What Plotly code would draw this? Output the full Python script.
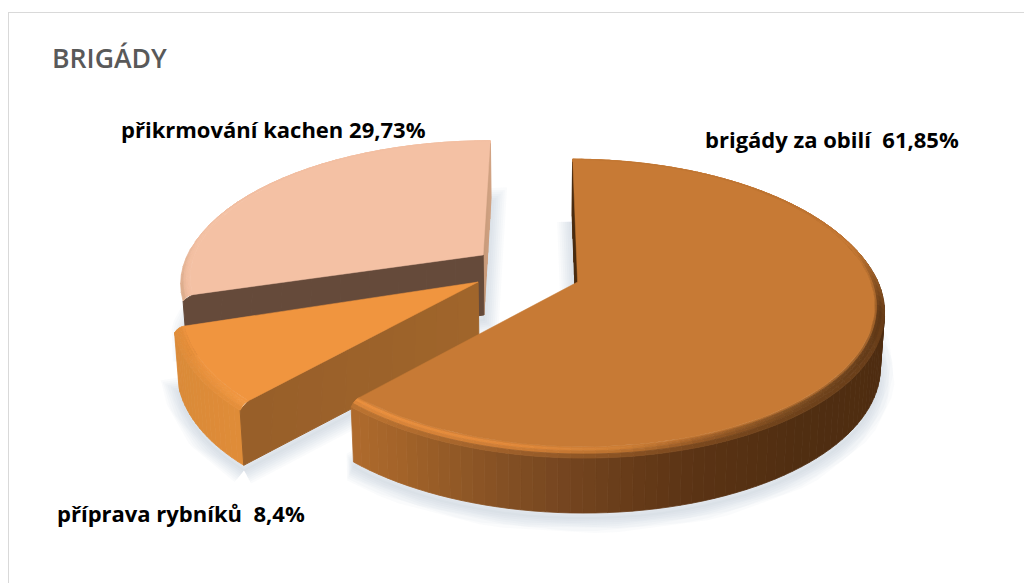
import math
import plotly.graph_objects as go

# Data
categories = ["brigády za obilí", "příprava rybníků", "přikrmování kachen"]
values = [61.85, 8.4, 29.73]
chart_title = "BRIGÁDY"

# Projection of the tilted pie onto the page (pixel space of the hidden axes)
VAN_X, APEX_Y, SCALE_X, SCALE_Y, PERSP = 540.0, 282.0, 308.0, 142.7, 0.151
CENTER_U = 0.114
DEPTH = 60.0
CONVERGE = 0.00022  # vertical edges lean slightly inward as they go down

# Per-slice styling and explosion: (du, dv, rx, ry)
EXPLODE = {0: (0.008, 0.0, 0.983, 1.015), 1: (-0.315, 0.0, 0.975, 1.04), 2: (-0.304, 0.195, 0.997, 0.995)}
TOPS = {0: "#c77a35", 1: "#f0953f", 2: "#f4c1a4"}


def hex2rgb(c):
    return tuple(int(c[i:i + 2], 16) for i in (1, 3, 5))


def mix(a, b, t):
    t = max(0.0, min(1.0, t))
    return tuple(a[i] + (b[i] - a[i]) * t for i in range(3))


def css(c):
    return "rgb(%d,%d,%d)" % tuple(round(x) for x in c)


def ramp(stops, x):
    if x <= stops[0][0]:
        return hex2rgb(stops[0][1])
    for (x0, c0), (x1, c1) in zip(stops, stops[1:]):
        if x <= x1:
            return mix(hex2rgb(c0), hex2rgb(c1), (x - x0) / (x1 - x0))
    return hex2rgb(stops[-1][1])


def project(u, v, z):
    w = 1 + PERSP * v
    x = VAN_X + SCALE_X * (u + CENTER_U) / w
    return x + (VAN_X - x) * z * CONVERGE, APEX_Y - SCALE_Y * v / w + z


def point(slice_i, theta, r, z):
    du, dv, rx, ry = EXPLODE[slice_i]
    return project(du + rx * r * math.sin(theta), dv + ry * r * math.cos(theta), z)


def apex(slice_i, z):
    du, dv, _, _ = EXPLODE[slice_i]
    return project(du, dv, z)


fig = go.Figure()


def poly(pts, color, stroke=0.8):
    xs = [p[0] for p in pts] + [pts[0][0]]
    ys = [p[1] for p in pts] + [pts[0][1]]
    fig.add_trace(go.Scatter(x=xs, y=ys, mode="lines", fill="toself", fillcolor=color,
                             line=dict(color=color, width=stroke), hoverinfo="skip", showlegend=False))


total = sum(values)
spans = []
start = 0.0
for val in values:
    sweep = 2 * math.pi * val / total
    spans.append((start, start + sweep))
    start += sweep

MAIN_WALL = [(345, "#b06c2e"), (400, "#a36329"), (480, "#8a5425"), (560, "#764620"),
             (640, "#653a18"), (700, "#5a3314"), (800, "#502e11"), (890, "#4e2c10")]
MAIN_RIM = [(345, "#f0933f"), (520, "#e98d3b"), (620, "#d58336"), (700, "#a86429"),
            (800, "#7c4c20"), (890, "#5c3616")]
ORANGE_WALL = [(160, "#d98a38"), (245, "#e08c38")]
ORANGE_RIM = [(160, "#e08a36"), (245, "#f49a44")]
PEACH_WALL = [(160, "#d2a383"), (300, "#d2a383")]
PEACH_RIM = [(160, "#f2bea0"), (300, "#f4c1a4")]
WALLS = {0: MAIN_WALL, 1: ORANGE_WALL, 2: PEACH_WALL}
RIMS = {0: MAIN_RIM, 1: ORANGE_RIM, 2: PEACH_RIM}
SEGMENTS = {0: 110, 1: 18, 2: 30}

BAND_R = [0.968, 0.976, 0.984, 0.992, 1.0]
BAND_Z = [0.0, 0.2, 1.0, 2.6, 5.0]

# Visible radial faces: (which end of the sweep, colour at the rim, colour at the apex)
SHOWN_FACES = {0: [(0, "#4a2c10", "#4a2c10")], 1: [(0, "#985f29", "#a0652b")],
               2: [(1, "#d2a383", "#c59878"), (0, "#654a3a", "#654a3a")]}


def arc(slice_i, r, z, n=60):
    a, b = spans[slice_i]
    return [point(slice_i, a + (b - a) * k / n, r, z) for k in range(n + 1)]


# Soft ground shadows under every slice
for i in (2, 1, 0):
    outline = arc(i, 1.0, DEPTH + 5) + [apex(i, DEPTH + 5)]
    outline.append(outline[0])
    xs, ys = zip(*outline)
    for width in range(30, 1, -4):
        fig.add_trace(go.Scatter(x=xs, y=ys, mode="lines",
                                 line=dict(color="rgba(150,170,190,0.045)", width=width),
                                 hoverinfo="skip", showlegend=False))


def draw_face(i, end, near, far):
    theta = spans[i][end]
    steps = 10
    for s in range(steps):
        r0, r1 = s / steps, (s + 1) / steps
        col = css(mix(hex2rgb(far), hex2rgb(near), (r0 + r1) / 2))
        pts = [point(i, theta, r0 * BAND_R[0], 0), point(i, theta, r1 * BAND_R[0], 0)]
        if s == steps - 1:
            # Close the corner against the rounded rim
            pts.append(point(i, theta, 1, BAND_Z[-1]))
        pts += [point(i, theta, r1, DEPTH), point(i, theta, r0, DEPTH)]
        poly(pts, col, 1.0)


def draw_slice(i):
    a, b = spans[i]
    n = SEGMENTS[i]
    top = hex2rgb(TOPS[i])

    # Outer wall; the back slice's wall stays hidden behind its neighbours
    if i != 2:
        for k in range(n):
            t0, t1 = a + (b - a) * k / n, a + (b - a) * (k + 1) / n
            p0, p1 = point(i, t0, 1, BAND_Z[-1]), point(i, t1, 1, BAND_Z[-1])
            q0, q1 = point(i, t0, 1, DEPTH), point(i, t1, 1, DEPTH)
            poly([p0, p1, q1, q0], css(ramp(WALLS[i], (p0[0] + p1[0]) / 2)))

    for face in SHOWN_FACES[i]:
        draw_face(i, *face)

    # Rounded rim between the wall and the flat top
    for band in range(len(BAND_R) - 1):
        f = (band + 0.5) / (len(BAND_R) - 1)
        for k in range(n):
            t0, t1 = a + (b - a) * k / n, a + (b - a) * (k + 1) / n
            tm = (t0 + t1) / 2
            mid = point(i, tm, 1, 0)
            front = max(0.0, min(1.0, (-math.cos(tm) + 0.25) / 0.45))
            c = mix(top, ramp(RIMS[i], mid[0]), math.sin(math.pi * f) * front)
            c = mix(c, ramp(WALLS[i], mid[0]), (f ** 3) * max(front, 0.15))
            poly([point(i, t0, BAND_R[band], BAND_Z[band]), point(i, t1, BAND_R[band], BAND_Z[band]),
                  point(i, t1, BAND_R[band + 1], BAND_Z[band + 1]), point(i, t0, BAND_R[band + 1], BAND_Z[band + 1])],
                 css(c))

    # Flat top
    poly([apex(i, 0)] + arc(i, BAND_R[0], 0, 90), TOPS[i], 0.5)


for i in (2, 1, 0):
    draw_slice(i)


def label_text(i):
    number = ("%.2f" % values[i]).rstrip("0").replace(".", ",")
    return number + "%"


LABELS = [
    (703, 139, categories[0] + "\u00a0\u00a0" + label_text(0)),
    (55, 513, categories[1] + "\u00a0\u00a0" + label_text(1)),
    (119, 129, categories[2] + " " + label_text(2)),
]
for x, y, text in LABELS:
    fig.add_annotation(x=x, y=y, xref="x", yref="y", text="<b>" + text + "</b>", showarrow=False,
                       xanchor="left", yanchor="middle",
                       font=dict(family="Open Sans", size=22, color="#000000"))

fig.add_annotation(x=50, y=58, xref="x", yref="y", text=chart_title, showarrow=False, xanchor="left",
                   yanchor="middle", font=dict(family="Open Sans", size=26.6, color="#595959", weight=600))

# Chart-area frame: only the top and left edges fall inside the page
fig.add_shape(type="line", x0=8.5, x1=8.5, y0=12, y1=583, xref="x", yref="y",
              line=dict(color="#d9d9d9", width=1))
fig.add_shape(type="line", x0=8, x1=1024, y0=12.5, y1=12.5, xref="x", yref="y",
              line=dict(color="#d9d9d9", width=1))

fig.update_layout(
    width=1024, height=583, margin=dict(l=0, r=0, t=0, b=0), paper_bgcolor="#ffffff", plot_bgcolor="#ffffff",
    showlegend=False,
    xaxis=dict(range=[0, 1024], visible=False, fixedrange=True),
    yaxis=dict(range=[583, 0], visible=False, fixedrange=True),
)
fig.write_html("out.html", config={"displayModeBar": False})
